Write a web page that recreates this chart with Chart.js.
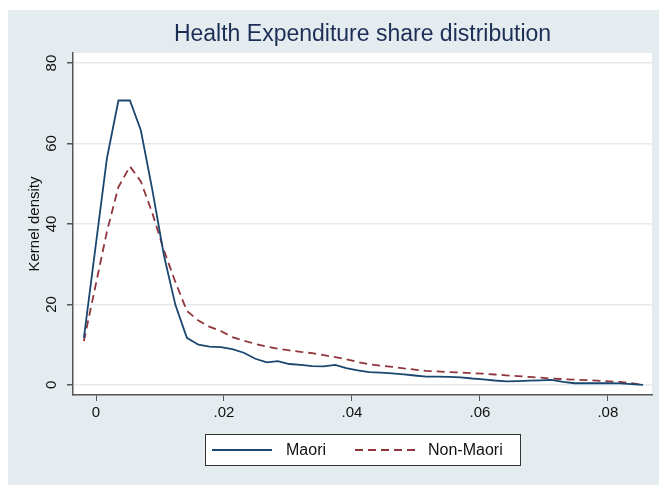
<!DOCTYPE html>
<html>
<head>
<meta charset="utf-8">
<script src="https://cdn.jsdelivr.net/npm/chart.js@4"></script>
<style>
  html, body { margin: 0; padding: 0; background: #fff; }
  #wrap { width: 659px; height: 487px; }
</style>
</head>
<body>
<div id="wrap"><canvas id="myChart" width="659" height="487"></canvas></div>
<script>
// evaluation points of the kernel density (health expenditure share)
var shareX = [-0.0019, -0.0001, 0.0017, 0.0035, 0.0053, 0.0070, 0.0088, 0.0106, 0.0124, 0.0142,
              0.0160, 0.0177, 0.0195, 0.0213, 0.0231, 0.0249, 0.0267, 0.0284, 0.0302, 0.0320,
              0.0338, 0.0356, 0.0374, 0.0391, 0.0409, 0.0427, 0.0445, 0.0463, 0.0481, 0.0498,
              0.0516, 0.0534, 0.0552, 0.0570, 0.0588, 0.0605, 0.0623, 0.0641, 0.0659, 0.0677,
              0.0695, 0.0712, 0.0730, 0.0748, 0.0766, 0.0784, 0.0802, 0.0819, 0.0837, 0.0855];

var maori = [11.7, 34.0, 56.3, 70.7, 70.7, 63.3, 48.5, 32.3, 19.9, 11.7,
             10.0, 9.5, 9.4, 8.9, 8.0, 6.5, 5.6, 5.9, 5.2, 5.0,
             4.7, 4.6, 5.0, 4.2, 3.6, 3.2, 3.05, 2.85, 2.65, 2.35,
             2.06, 2.06, 2.0, 1.9, 1.6, 1.4, 1.1, 0.87, 0.95, 1.05,
             1.15, 1.24, 0.75, 0.42, 0.42, 0.42, 0.42, 0.37, 0.2, 0.0];

var nonMaori = [10.9, 24.5, 38.1, 49.2, 54.3, 50.6, 42.7, 33.5, 25.6, 18.4,
                16.0, 14.5, 13.4, 11.9, 11.0, 10.2, 9.5, 9.0, 8.6, 8.2,
                7.9, 7.4, 6.9, 6.4, 5.7, 5.1, 4.8, 4.5, 4.1, 3.8,
                3.5, 3.35, 3.2, 3.1, 2.9, 2.8, 2.6, 2.4, 2.2, 2.0,
                1.8, 1.6, 1.45, 1.3, 1.2, 1.05, 0.9, 0.75, 0.42, 0.0];

var xTicks = [0, 0.02, 0.04, 0.06, 0.08];
var xTickLabels = ['0', '.02', '.04', '.06', '.08'];
var yTicks = [0, 20, 40, 60, 80];

var seriesNames = ['Maori', 'Non-Maori'];
var chartTitle = 'Health Expenditure share distribution';

var FONT = '"Liberation Sans", Arial, sans-serif';

function pts(ys) {
    return shareX.map(function (x, i) { return { x: x, y: ys[i] }; });
}

// background, white plot region, centred title, vertical y labels and boxed legend (Stata look)
var stataLook = {
    id: 'stataLook',
    beforeDraw: function (chart) {
        var c = chart.ctx, a = chart.chartArea;
        c.save();
        c.fillStyle = '#ffffff';
        c.fillRect(0, 0, chart.width, chart.height);
        c.fillStyle = '#e4ecf0';
        c.fillRect(8, 10, chart.width - 8, 475);
        c.fillStyle = '#ffffff';
        c.fillRect(a.left, a.top, a.right - a.left, a.bottom - a.top);
        c.restore();
    },
    afterDraw: function (chart) {
        var c = chart.ctx, a = chart.chartArea;
        c.save();

        // title over the plot region
        c.fillStyle = '#1c2e55';
        c.font = '23px ' + FONT;
        c.textAlign = 'center';
        c.textBaseline = 'middle';
        c.fillText(chartTitle, (a.left + a.right) / 2, 35);

        // y tick labels, vertical like Stata
        var ys = chart.scales.y;
        c.fillStyle = '#111111';
        c.font = '15px ' + FONT;
        yTicks.forEach(function (v) {
            c.save();
            c.translate(52, ys.getPixelForValue(v));
            c.rotate(-Math.PI / 2);
            c.fillText(String(v), 0, 0);
            c.restore();
        });

        // legend
        var bx = 205, by = 434, bw = 315, bh = 31;
        c.fillStyle = '#ffffff';
        c.fillRect(bx, by, bw, bh);
        c.strokeStyle = '#333333';
        c.lineWidth = 1;
        c.strokeRect(bx + 0.5, by + 0.5, bw, bh);
        var cy = by + bh / 2 + 0.5;
        var items = [
            { x0: 212, x1: 272, tx: 286, ds: chart.data.datasets[0] },
            { x0: 355, x1: 420, tx: 428, ds: chart.data.datasets[1] }
        ];
        c.font = '16px ' + FONT;
        c.textAlign = 'left';
        items.forEach(function (it) {
            c.strokeStyle = it.ds.borderColor;
            c.lineWidth = it.ds.borderWidth;
            c.setLineDash(it.ds.borderDash || []);
            c.beginPath();
            c.moveTo(it.x0, cy);
            c.lineTo(it.x1, cy);
            c.stroke();
            c.setLineDash([]);
            c.fillStyle = '#111111';
            c.fillText(it.ds.label, it.tx, cy + 1);
        });
        c.restore();
    }
};

document.addEventListener('DOMContentLoaded', function () {
    var ctx = document.getElementById('myChart').getContext('2d');
    var myChart = new Chart(ctx, {
        type: 'line',
        data: {
            datasets: [{
                label: seriesNames[0],
                data: pts(maori),
                borderColor: '#1a476f',
                borderWidth: 1.8,
                pointRadius: 0,
                fill: false,
                tension: 0
            }, {
                label: seriesNames[1],
                data: pts(nonMaori),
                borderColor: '#90353b',
                borderWidth: 1.8,
                borderDash: [8, 5],
                pointRadius: 0,
                fill: false,
                tension: 0
            }]
        },
        options: {
            responsive: false,
            animation: false,
            layout: { padding: { left: 0, right: 7, top: 53, bottom: 62 } },
            scales: {
                x: {
                    type: 'linear',
                    min: -0.0036,
                    max: 0.0869,
                    afterBuildTicks: function (scale) {
                        scale.ticks = xTicks.map(function (v) { return { value: v }; });
                    },
                    afterFit: function (scale) { scale.height = 30; },
                    ticks: {
                        autoSkip: false,
                        maxRotation: 0,
                        padding: 3,
                        color: '#111111',
                        font: { family: FONT, size: 15 },
                        callback: function (v) {
                            var i = xTicks.indexOf(v);
                            return i >= 0 ? xTickLabels[i] : '';
                        }
                    },
                    grid: {
                        drawOnChartArea: false,
                        tickLength: 6,
                        tickColor: '#555555'
                    },
                    border: { color: '#555555', width: 1.5 }
                },
                y: {
                    type: 'linear',
                    min: -2.5,
                    max: 82.5,
                    afterBuildTicks: function (scale) {
                        scale.ticks = yTicks.map(function (v) { return { value: v }; });
                    },
                    afterFit: function (scale) { scale.width = 73; },
                    ticks: { display: false },
                    grid: {
                        color: '#e3ebf0',
                        lineWidth: 1.5,
                        tickLength: 6,
                        tickColor: '#555555'
                    },
                    border: { color: '#555555', width: 1.5 },
                    title: {
                        display: true,
                        text: 'Kernel density',
                        color: '#111111',
                        font: { family: FONT, size: 15 },
                        padding: { top: 26, bottom: 0 }
                    }
                }
            },
            plugins: {
                legend: { display: false },
                tooltip: { enabled: false },
                title: { display: false }
            }
        },
        plugins: [stataLook]
    });
});
</script>
</body>
</html>
